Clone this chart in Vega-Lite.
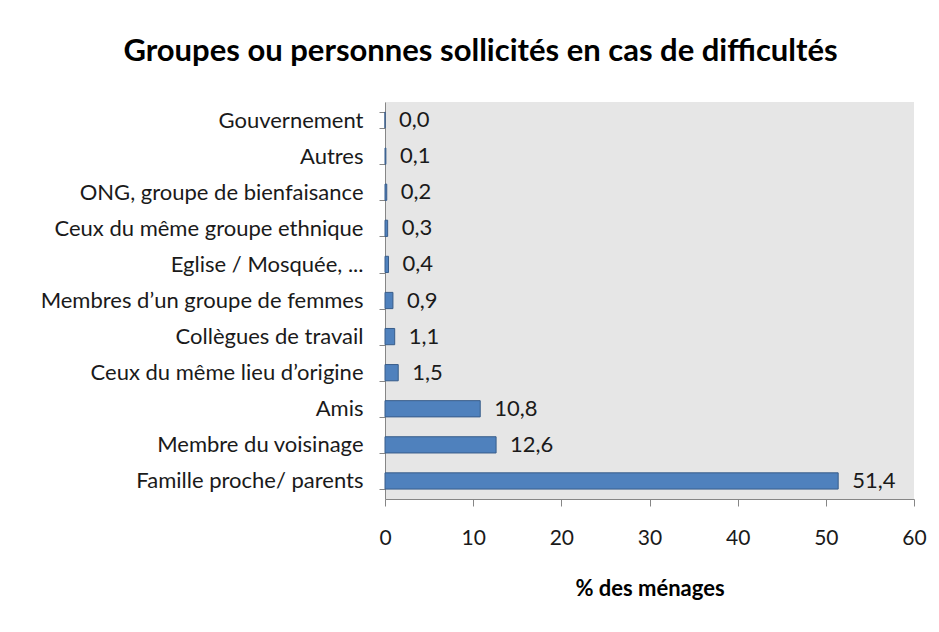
{
  "$schema": "https://vega.github.io/schema/vega-lite/v6.json",
  "width": 529,
  "height": 397,
  "autosize": {"type": "none"},
  "padding": {"left": 385, "top": 102, "right": 25, "bottom": 133},
  "background": "white",
  "title": {
    "text": "Groupes ou personnes sollicités en cas de difficultés",
    "anchor": "middle",
    "frame": "group",
    "dx": -169,
    "dy": 43,
    "baseline": "alphabetic",
    "offset": 42,
    "font": "Lato",
    "fontSize": 31,
    "fontWeight": "bold",
    "color": "#000000"
  },
  "config": {
    "locale": {
      "number": {"decimal": ",", "thousands": " ", "grouping": [3], "currency": ["", " €"]}
    },
    "view": {"fill": "#e6e6e6", "stroke": null},
    "font": "Lato"
  },
  "data": {
    "values": [
      {"groupe": "Gouvernement", "pct": 0.0},
      {"groupe": "Autres", "pct": 0.1},
      {"groupe": "ONG, groupe de bienfaisance", "pct": 0.2},
      {"groupe": "Ceux du même groupe ethnique", "pct": 0.3},
      {"groupe": "Eglise / Mosquée, ...", "pct": 0.4},
      {"groupe": "Membres d’un groupe de femmes", "pct": 0.9},
      {"groupe": "Collègues de travail", "pct": 1.1},
      {"groupe": "Ceux du même lieu d’origine", "pct": 1.5},
      {"groupe": "Amis", "pct": 10.8},
      {"groupe": "Membre du voisinage", "pct": 12.6},
      {"groupe": "Famille proche/ parents", "pct": 51.4}
    ]
  },
  "encoding": {
    "y": {
      "field": "groupe",
      "type": "nominal",
      "sort": null,
      "scale": {"paddingInner": 0.55, "paddingOuter": 0.275},
      "axis": {
        "title": null,
        "tickBand": "extent",
        "tickSize": 6,
        "tickColor": "#868686",
        "domainColor": "#868686",
        "labelPadding": 16,
        "labelFontSize": 22,
        "labelColor": "#1a1a1a",
        "labelLimit": 400,
        "labelFont": "Lato"
      }
    },
    "x": {
      "field": "pct",
      "type": "quantitative",
      "scale": {"domain": [0, 60], "nice": false},
      "axis": {
        "title": "% des ménages",
        "values": [0, 10, 20, 30, 40, 50, 60],
        "format": "d",
        "grid": false,
        "labelFlush": false,
        "tickSize": 7,
        "tickColor": "#868686",
        "domainColor": "#868686",
        "labelPadding": 32,
        "labelBaseline": "middle",
        "labelFontSize": 21,
        "labelColor": "#1a1a1a",
        "labelFont": "Lato",
        "titleFont": "Lato",
        "titleFontSize": 22,
        "titleFontWeight": "bold",
        "titleColor": "#000000",
        "titleBaseline": "alphabetic",
        "titleY": 96
      }
    }
  },
  "layer": [
    {
      "mark": {"type": "bar", "fill": "#4f81bd", "stroke": "#385d8a", "strokeWidth": 1}
    },
    {
      "mark": {"type": "text", "align": "left", "baseline": "middle", "dx": 14, "fontSize": 22, "color": "#1a1a1a", "font": "Lato"},
      "encoding": {
        "text": {"field": "pct", "type": "quantitative", "format": ".1f"}
      }
    }
  ]
}
